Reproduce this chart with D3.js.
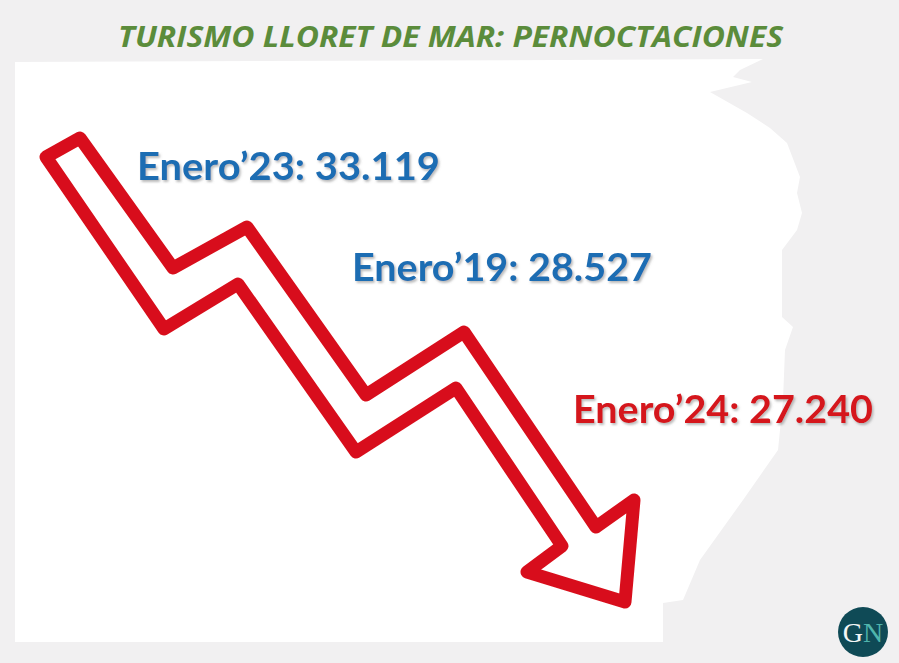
<!DOCTYPE html>
<html>
<head>
<meta charset="utf-8">
<script src="https://cdn.jsdelivr.net/npm/d3@7"></script>
<style>
  html, body { margin: 0; padding: 0; background: #f1f0f1; }
  svg { display: block; }
</style>
</head>
<body>
<svg id="chart" width="899" height="663"></svg>
<script>
// data
const title = "TURISMO LLORET DE MAR: PERNOCTACIONES";
const months = ["Enero", "Enero", "Enero"];
const years = ["23", "19", "24"];
const values = [33119, 28527, 27240];
const labelColors = ["#1f6db3", "#1f6db3", "#d5141c"];

// layout (pixels)
const W = 899, H = 663;
const labelPos = [[137, 180], [352, 281], [573, 423]];
const labelWidth = [303, 300, 300];

// Spanish number format: 33.119
const es = d3.formatLocale({decimal: ",", thousands: ".", grouping: [3], currency: ["", " €"]});
const fmt = es.format(",d");

const svg = d3.select("#chart");

const defs = svg.append("defs");
const shadow = defs.append("filter").attr("id", "shadow")
    .attr("x", "-5%").attr("y", "-20%").attr("width", "110%").attr("height", "150%");
shadow.append("feDropShadow")
    .attr("dx", 1.5).attr("dy", 2).attr("stdDeviation", 1.3)
    .attr("flood-color", "#777").attr("flood-opacity", 0.5);
const soft = defs.append("filter").attr("id", "soft");
soft.append("feGaussianBlur").attr("stdDeviation", 0.6);

svg.append("rect").attr("width", W).attr("height", H).attr("fill", "#f1f0f1");

// white brush-stroke panel behind the arrow
const panel = [
    [15, 62], [560, 60], [763, 59], [740, 70], [733, 77], [752, 82], [710, 92],
    [747, 113], [770, 128], [787, 143], [800, 177], [797, 193], [802, 213],
    [797, 230], [782, 250], [782, 317], [793, 327], [785, 350], [783, 400],
    [778, 450], [743, 500], [700, 560], [683, 600], [663, 603], [663, 642], [15, 642]
];
svg.append("path")
    .attr("d", d3.line()(panel) + "Z")
    .attr("fill", "#ffffff");

// zigzag arrow outline (stroke centreline)
const arrow = [
    [80, 138], [173, 268], [247, 227], [366, 395], [464, 332], [596, 527],
    [634, 500], [625, 602], [527, 572], [562, 546], [456, 388], [356, 452],
    [238, 284], [164, 329], [46, 157]
];
svg.append("path")
    .attr("d", d3.line()(arrow) + "Z")
    .attr("fill", "#ffffff")
    .attr("stroke", "#d8111b")
    .attr("stroke-width", 13)
    .attr("stroke-linejoin", "round")
    .attr("filter", "url(#soft)");

// title
svg.append("text")
    .attr("x", 118).attr("y", 47)
    .attr("textLength", 665).attr("lengthAdjust", "spacingAndGlyphs")
    .attr("font-family", "'Open Sans', Lato, sans-serif")
    .attr("font-weight", 700).attr("font-style", "italic")
    .attr("font-size", 28)
    .attr("fill", "#5b8c3b")
    .text(title);

// value labels
svg.append("g").selectAll("text")
    .data(values)
    .join("text")
    .attr("x", (d, i) => labelPos[i][0])
    .attr("y", (d, i) => labelPos[i][1])
    .attr("textLength", (d, i) => labelWidth[i])
    .attr("lengthAdjust", "spacingAndGlyphs")
    .attr("font-family", "Lato, 'Open Sans', sans-serif")
    .attr("font-weight", 700)
    .attr("font-size", 38)
    .attr("fill", (d, i) => labelColors[i])
    .attr("filter", "url(#shadow)")
    .text((d, i) => `${months[i]}\u2019${years[i]}: ${fmt(d)}`);

// GN logo
const logo = svg.append("g").attr("transform", "translate(863,632)");
logo.append("circle").attr("r", 25).attr("fill", "#0f4a56");
const mark = logo.append("text")
    .attr("x", 0).attr("y", 10)
    .attr("text-anchor", "middle")
    .attr("font-family", "'Liberation Serif', 'DejaVu Serif', serif")
    .attr("font-size", 28);
mark.append("tspan").attr("fill", "#f4f6f6").text("G");
mark.append("tspan").attr("fill", "#4fb5ad").text("N");
</script>
</body>
</html>
